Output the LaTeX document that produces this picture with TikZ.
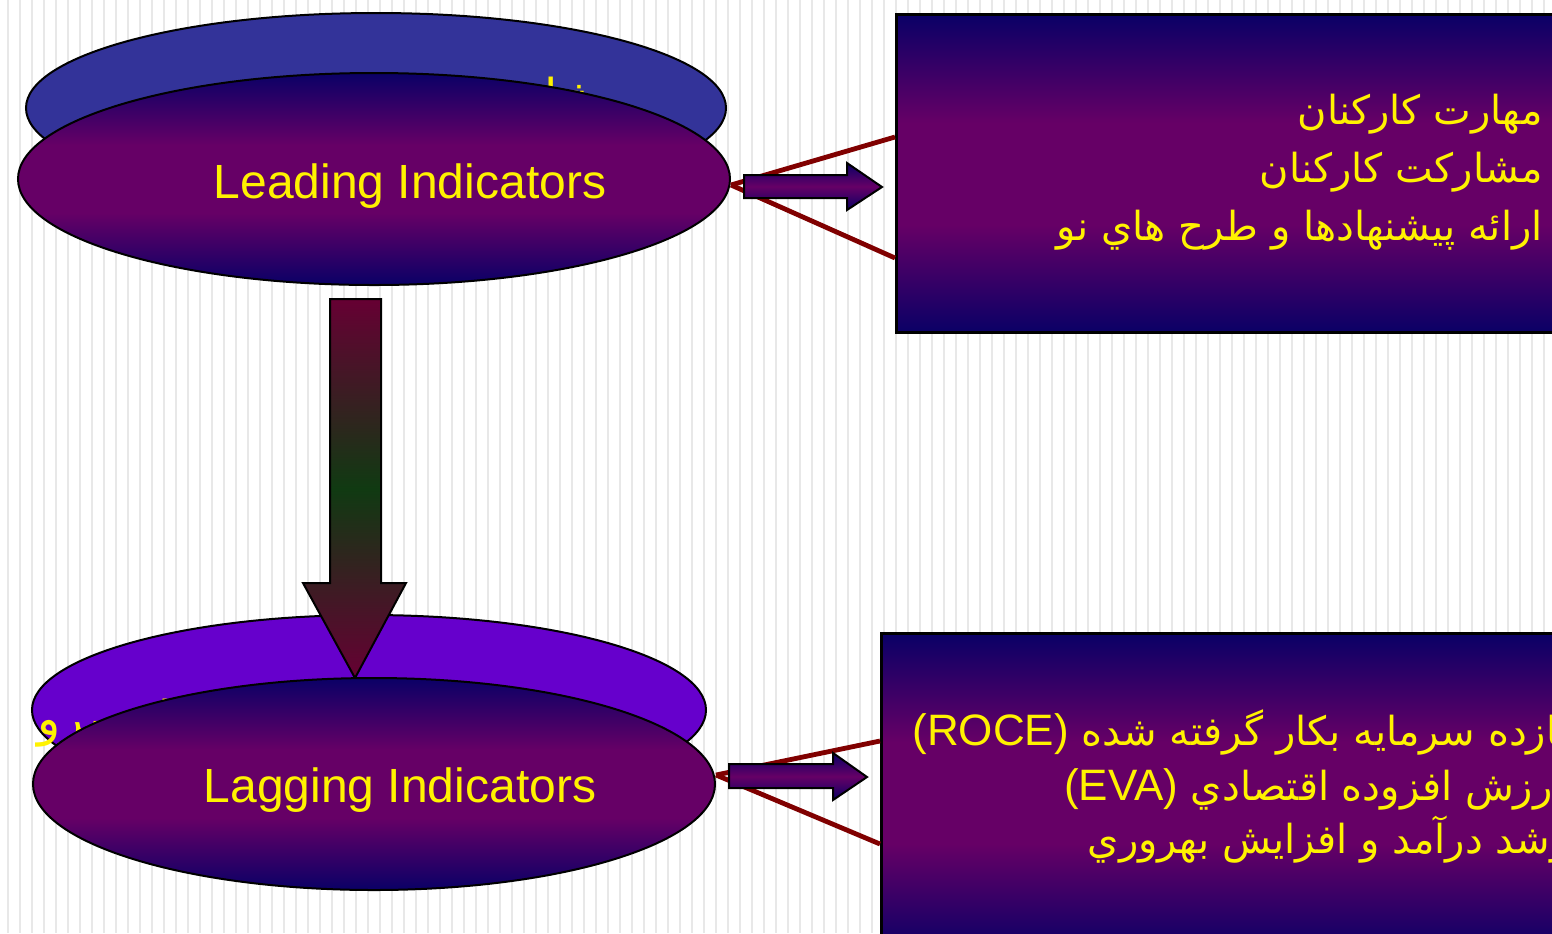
\documentclass[tikz,border=0pt]{standalone}
\usepackage{fontspec}
\setmainfont{Liberation Sans}
\newfontfamily\arabicfont[Script=Arabic]{DejaVu Sans}
\TeXXeTstate=1
\usetikzlibrary{shapes.geometric,positioning}

\definecolor{deepnavy}{HTML}{0A0066}
\definecolor{plum}{HTML}{660066}
\definecolor{slateblue}{HTML}{333399}
\definecolor{brightviolet}{HTML}{6600CC}
\definecolor{linkred}{HTML}{800000}
\definecolor{arrowtop}{HTML}{660033}
\definecolor{arrowmid}{HTML}{103A12}
\definecolor{stripegray}{HTML}{E8E8E8}

\pgfdeclareverticalshading{navyplum}{100bp}{color(0bp)=(deepnavy); color(25bp)=(deepnavy);
  color(42bp)=(plum); color(58bp)=(plum); color(75bp)=(deepnavy); color(100bp)=(deepnavy)}

\begin{document}
\begin{tikzpicture}
  [x=0.5pt, y=-0.5pt,
   stripe/.style={stripegray, line width=0.75pt},
   backell/.style={ellipse, draw, line width=1pt, inner sep=0pt},
   frontell/.style={ellipse, draw, line width=1pt, inner sep=0pt, shading=navyplum},
   infobox/.style={rectangle, draw, line width=1.7pt, inner sep=0pt, anchor=north west,
     minimum width=360pt, minimum height=159pt, shading=navyplum},
   eng/.style={text=yellow, anchor=base, font=\fontsize{24}{28}\selectfont},
   fa/.style={text=yellow, inner sep=0pt, font=\arabicfont\fontsize{20}{24}\selectfont},
   link/.style={linkred, line width=2.4pt},
   blockarrow/.style={draw, line width=1pt,
     top color=deepnavy, bottom color=deepnavy, middle color=plum},
   downarrow/.style={draw, line width=1pt,
     top color=arrowtop, bottom color=arrowtop, middle color=arrowmid}]

  \useasboundingbox (0,0) rectangle (1552,933);
  \clip (0,0) rectangle (1552,933);

  % striped background
  \foreach \x in {8,20,...,1550}
    \draw[stripe] (\x,0) -- (\x,933);

  % back ellipses with their (mostly hidden) titles
  \node[backell, fill=slateblue, minimum width=350pt, minimum height=95pt] (leadB) at (376,108) {};
  \node[fa, font=\arabicfont\fontsize{24}{28}\selectfont, anchor=base east] (leadFa) at (600,113) {\beginR شاخص هاي پيشرو\endR};
  \node[backell, fill=brightviolet, minimum width=337pt, minimum height=95pt] (lagB) at (369,710) {};
  \node[fa, font=\arabicfont\fontsize{24}{28}\selectfont, anchor=base east] (lagFa) at (590,735) {\beginR شاخص هاي تاخيري يا پسرو\endR};

  % down arrow
  \draw[downarrow] (330,299) -- (381,299) -- (381,583) -- (406,583) -- (355,678)
    -- (303,583) -- (330,583) -- cycle;

  % front ellipses
  \node[frontell, minimum width=356pt, minimum height=106pt] (leadE) at (374,179) {};
  \node[eng] (leadT) at ([xshift=18pt, yshift=-9.5pt]leadE.center) {Leading Indicators};
  \node[frontell, minimum width=341pt, minimum height=106pt] (lagE) at (374,784) {};
  \node[eng] (lagT) at ([xshift=13pt, yshift=-9pt]lagE.center) {Lagging Indicators};

  % right boxes
  \node[infobox] (leadBox) at (895,13) {};
  \node[infobox] (lagBox) at (880,632) {};

  \node[fa, anchor=base east] (skill) at (1543,124) {\beginR مهارت كاركنان\endR};
  \node[fa, anchor=base east] (share) at (1543,182) {\beginR مشاركت كاركنان\endR};
  \node[fa, anchor=base east] (ideas) at (1543,240) {\beginR ارائه پيشنهادها و طرح هاي نو\endR};

  \node[fa, anchor=base east] (roce) at (1570,745) {\beginR بازده سرمايه بكار گرفته شده \beginL{\rmfamily\fontsize{22}{26}\selectfont(ROCE)}\endL\endR};
  \node[fa, anchor=base east] (eva) at (1564,800) {\beginR ارزش افزوده اقتصادي \beginL{\rmfamily\fontsize{22}{26}\selectfont(EVA)}\endL\endR};
  \node[fa, anchor=base east] (growth) at (1570,853) {\beginR رشد درآمد و افزايش بهروري\endR};

  % fan connectors
  \coordinate (leadC) at ([yshift=-3pt]leadE.east);
  \coordinate (leadUp) at (895,137);
  \coordinate (leadDn) at (895,258);
  \draw[link] (leadC) -- (leadUp);
  \draw[link] (leadC) -- (leadDn);

  \coordinate (lagC) at ([yshift=4.5pt]lagE.east);
  \coordinate (lagUp) at (880,741);
  \coordinate (lagDn) at (880,844);
  \draw[link] (lagC) -- (lagUp);
  \draw[link] (lagC) -- (lagDn);

  % block arrows
  \draw[blockarrow] (744,175) -- (847,175) -- (847,163) -- (882,187) -- (847,210)
    -- (847,198) -- (744,198) -- cycle;
  \draw[blockarrow] (729,764) -- (833,764) -- (833,753) -- (867,777) -- (833,800)
    -- (833,788) -- (729,788) -- cycle;
\end{tikzpicture}
\end{document}
